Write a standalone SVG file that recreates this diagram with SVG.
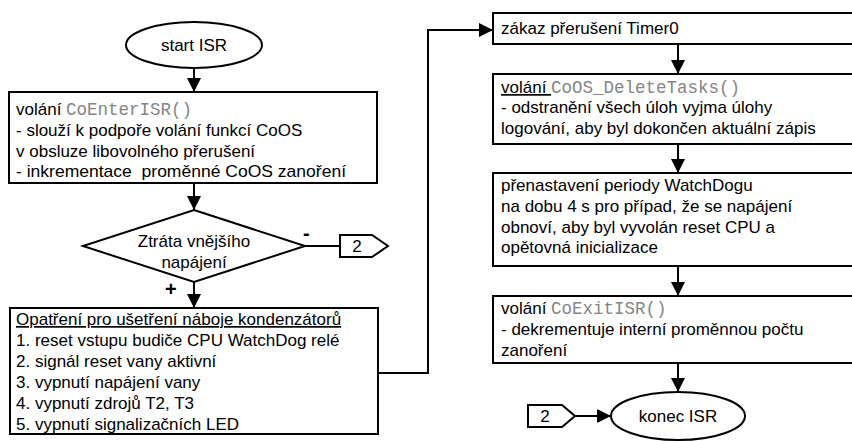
<svg xmlns="http://www.w3.org/2000/svg" width="852" height="441" viewBox="0 0 852 441">
<defs>
<marker id="ah" viewBox="0 0 14 14" refX="14" refY="7" markerWidth="14" markerHeight="14" markerUnits="userSpaceOnUse" orient="auto">
<path d="M0,0 L14,7 L0,14 Z" fill="#000"/>
</marker>
<style>
.shape{fill:#fff;stroke:#000;stroke-width:2}
.t{font-family:"Liberation Sans",Arial,sans-serif;font-size:17px;fill:#000}
.c{text-anchor:middle}
.m{font-family:"Liberation Mono","Courier New",monospace;font-size:17.5px;fill:#858585}
.u{text-decoration:underline}
.conn{fill:none;stroke:#000;stroke-width:2}
.sign{font-family:"Liberation Sans",Arial,sans-serif;font-size:20px;font-weight:bold;fill:#000}
</style>
</defs>
<rect width="852" height="441" fill="#fff"/>
<g id="connectors">
<path class="conn" d="M194,68 V92" marker-end="url(#ah)"/>
<path class="conn" d="M194,183 V210" marker-end="url(#ah)"/>
<path class="conn" d="M305,246 H340"/>
<path class="conn" d="M194,282 V308" marker-end="url(#ah)"/>
<path class="conn" d="M378,373 H428 V30 H493" marker-end="url(#ah)"/>
<path class="conn" d="M678,44 V74" marker-end="url(#ah)"/>
<path class="conn" d="M678,144 V173" marker-end="url(#ah)"/>
<path class="conn" d="M678,266 V296" marker-end="url(#ah)"/>
<path class="conn" d="M678,363 V392" marker-end="url(#ah)"/>
<path class="conn" d="M575,416 H611" marker-end="url(#ah)"/>
</g>
<g id="start">
<ellipse class="shape" cx="194" cy="45" rx="68" ry="23"/>
<text class="t c" x="194" y="51">start ISR</text>
</g>
<g id="enter">
<rect class="shape" x="9" y="92" width="368" height="91"/>
<text class="t" x="16" y="115">volání <tspan class="m">CoEnterISR()</tspan></text>
<text class="t" x="16" y="136">- slouží k podpoře volání funkcí CoOS</text>
<text class="t" x="16" y="157">v obsluze libovolného přerušení</text>
<text class="t" x="16" y="177" xml:space="preserve" textLength="330" lengthAdjust="spacingAndGlyphs">- inkrementace  proměnné CoOS zanoření</text>
</g>
<g id="decision">
<path class="shape" stroke-width="1.5" d="M194,210 L305,246 L194,282 L83,246 Z"/>
<text class="t c" x="194" y="247">Ztráta vnějšího</text>
<text class="t c" x="194" y="268">napájení</text>
<text class="sign" x="303" y="240">-</text>
<text class="sign" x="165" y="296">+</text>
</g>
<g id="off1">
<path class="shape" stroke-width="1.5" d="M340,235 H372 L388,246 L372,257 H340 Z"/>
<text class="t c" x="357" y="252">2</text>
</g>
<g id="save">
<rect class="shape" x="10" y="308" width="368" height="126"/>
<text class="t u" x="16" y="325">Opatření pro ušetření náboje kondenzátorů</text>
<text class="t" x="16" y="346">1. reset vstupu budiče CPU WatchDog relé</text>
<text class="t" x="16" y="367">2. signál reset vany aktivní</text>
<text class="t" x="16" y="388">3. vypnutí napájení vany</text>
<text class="t" x="16" y="409">4. vypnutí zdrojů T2, T3</text>
<text class="t" x="16" y="430">5. vypnutí signalizačních LED</text>
</g>
<g id="disable">
<rect class="shape" x="493" y="13" width="370" height="31"/>
<text class="t" x="501" y="34">zákaz přerušení Timer0</text>
</g>
<g id="delete">
<rect class="shape" x="493" y="74" width="370" height="70"/>
<text class="t" x="501" y="93"><tspan class="u" xml:space="preserve">volání </tspan><tspan class="m">CoOS_DeleteTasks()</tspan></text>
<text class="t" x="501" y="113">- odstranění všech úloh vyjma úlohy</text>
<text class="t" x="501" y="134">logování, aby byl dokončen aktuální zápis</text>
</g>
<g id="watchdog">
<rect class="shape" x="493" y="173" width="370" height="93"/>
<text class="t" x="501" y="191">přenastavení periody WatchDogu</text>
<text class="t" x="501" y="212">na dobu 4 s pro případ, že se napájení</text>
<text class="t" x="501" y="233">obnoví, aby byl vyvolán reset CPU a</text>
<text class="t" x="501" y="253">opětovná inicializace</text>
</g>
<g id="exit">
<rect class="shape" x="493" y="296" width="370" height="67"/>
<text class="t" x="501" y="314">volání <tspan class="m">CoExitISR()</tspan></text>
<text class="t" x="501" y="335">- dekrementuje interní proměnnou počtu</text>
<text class="t" x="501" y="356">zanoření</text>
</g>
<g id="off2">
<path class="shape" stroke-width="1.5" d="M528,405 H562 L575,416 L562,427 H528 Z"/>
<text class="t c" x="545" y="422">2</text>
</g>
<g id="end">
<ellipse class="shape" cx="678" cy="416" rx="67" ry="24"/>
<text class="t c" x="678" y="422">konec ISR</text>
</g>
</svg>
